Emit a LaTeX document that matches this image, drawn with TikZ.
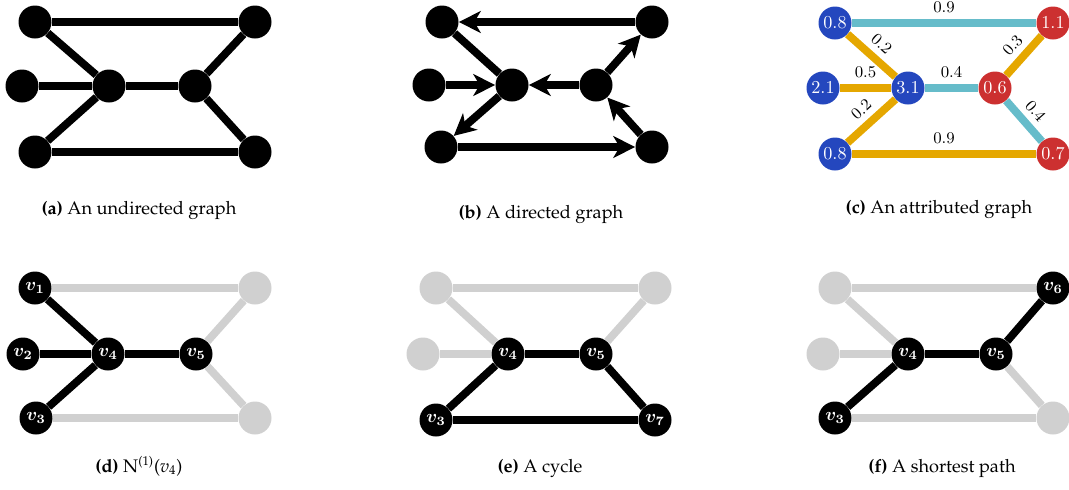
\documentclass[tikz,border=0pt]{standalone}
\usepackage{amsmath}
\usetikzlibrary{arrows.meta}

\definecolor{nodeblue}{HTML}{2447BE}
\definecolor{nodered}{HTML}{CC3030}
\definecolor{edgeteal}{HTML}{66BCCA}
\definecolor{edgegold}{HTML}{E5A700}
\definecolor{fadegrey}{HTML}{D0D0D0}

\newcommand{\capfont}{\fontencoding{OT1}\fontfamily{ppl}\selectfont}

\tikzset{
	vtx/.style={circle, fill=black, inner sep=0pt, minimum size=18.15pt, text=white},
	greyvtx/.style={vtx, fill=fadegrey},
	bluevtx/.style={vtx, fill=nodeblue},
	redvtx/.style={vtx, fill=nodered},
	link/.style={line width=4.3pt},
	greylink/.style={link, draw=fadegrey},
	teallink/.style={link, draw=edgeteal},
	goldlink/.style={link, draw=edgegold},
	arrowlink/.style={link, -{Stealth[length=12pt, width=12pt, inset=3.5pt]}},
	wlabel/.style={midway, above=2.6pt, sloped, inner sep=0.8pt, font=\small},
	captext/.style={anchor=base, font=\capfont},
}

\begin{document}
\begin{tikzpicture}[x=0.55pt, y=-0.55pt]
	\useasboundingbox (0,0) rectangle (1069,489);

	\foreach \n/\x/\y in {1/35/22, 2/22/86, 3/35/152, 4/109/86, 5/195/86, 6/255/22, 7/255/152}
		\node [vtx] (a\n) at (\x,\y) {};
	\foreach \s/\t in {1/6, 1/4, 2/4, 3/4, 4/5, 5/6, 5/7, 3/7}
		\draw [link] (a\s) -- (a\t);
	\node [captext] (capa) at (139,214) {\textbf{(a)} An undirected graph};

	\foreach \n/\x/\y in {1/442/22, 2/429/85, 3/441/147, 4/512/85, 5/596/85, 6/652/22, 7/652/147}
		\node [vtx] (b\n) at (\x,\y) {};
	\draw [link] (b1) -- (b4);
	\foreach \s/\t in {6/1, 2/4, 4/3, 5/4, 5/6, 7/5, 3/7}
		\draw [arrowlink] (b\s) -- (b\t);
	\node [captext] (capb) at (541,218) {\textbf{(b)} A directed graph};

	\foreach \n/\x/\y/\look/\val in {1/835/23/bluevtx/0.8, 2/823/88/bluevtx/2.1, 3/835/154/bluevtx/0.8, 4/908/88/bluevtx/3.1, 5/995/88/redvtx/0.6, 6/1053/23/redvtx/1.1, 7/1053/154/redvtx/0.7}
		\node [\look] (c\n) at (\x,\y) {$\val$};
	\foreach \s/\t/\look/\w in {1/6/teallink/0.9, 1/4/goldlink/0.2, 2/4/goldlink/0.5, 3/4/goldlink/0.2, 4/5/teallink/0.4, 5/6/goldlink/0.3, 5/7/teallink/0.4, 3/7/goldlink/0.9}
		\draw [\look] (c\s) -- node [wlabel] {$\w$} (c\t);
	\node [captext] (capc) at (939,213) {\textbf{(c)} An attributed graph};

	\foreach \n/\x/\y/\look/\txt in {1/35/288/vtx/$\boldsymbol{v_1}$, 2/23/354/vtx/$\boldsymbol{v_2}$, 3/36/418/vtx/$\boldsymbol{v_3}$, 4/108/354/vtx/$\boldsymbol{v_4}$, 5/196/354/vtx/$\boldsymbol{v_5}$, 6/255/288/greyvtx/{}, 7/255/418/greyvtx/{}}
		\node [\look] (d\n) at (\x,\y) {\txt};
	\foreach \s/\t in {1/6, 5/6, 5/7, 3/7}
		\draw [greylink] (d\s) -- (d\t);
	\foreach \s/\t in {1/4, 2/4, 3/4, 4/5}
		\draw [link] (d\s) -- (d\t);
	\node [captext] (capd) at (139,472) {\textbf{(d)} N\textsuperscript{(1)}(\textit{v}\textsubscript{4})};

	\foreach \n/\x/\y/\look/\txt in {1/436/288/greyvtx/{}, 2/423/354/greyvtx/{}, 3/436/420/vtx/$\boldsymbol{v_3}$, 4/508/354/vtx/$\boldsymbol{v_4}$, 5/596/354/vtx/$\boldsymbol{v_5}$, 6/655/288/greyvtx/{}, 7/655/420/vtx/$\boldsymbol{v_7}$}
		\node [\look] (e\n) at (\x,\y) {\txt};
	\foreach \s/\t in {1/6, 1/4, 2/4, 5/6}
		\draw [greylink] (e\s) -- (e\t);
	\foreach \s/\t in {4/5, 4/3, 3/7, 5/7}
		\draw [link] (e\s) -- (e\t);
	\node [captext] (cape) at (540,472) {\textbf{(e)} A cycle};

	\foreach \n/\x/\y/\look/\txt in {1/835/288/greyvtx/{}, 2/823/354/greyvtx/{}, 3/835/418/vtx/$\boldsymbol{v_3}$, 4/908/354/vtx/$\boldsymbol{v_4}$, 5/996/354/vtx/$\boldsymbol{v_5}$, 6/1053/288/vtx/$\boldsymbol{v_6}$, 7/1053/418/greyvtx/{}}
		\node [\look] (f\n) at (\x,\y) {\txt};
	\foreach \s/\t in {1/6, 1/4, 2/4, 5/7, 3/7}
		\draw [greylink] (f\s) -- (f\t);
	\foreach \s/\t in {3/4, 4/5, 5/6}
		\draw [link] (f\s) -- (f\t);
	\node [captext] (capf) at (942,472) {\textbf{(f)} A shortest path};
\end{tikzpicture}
\end{document}
